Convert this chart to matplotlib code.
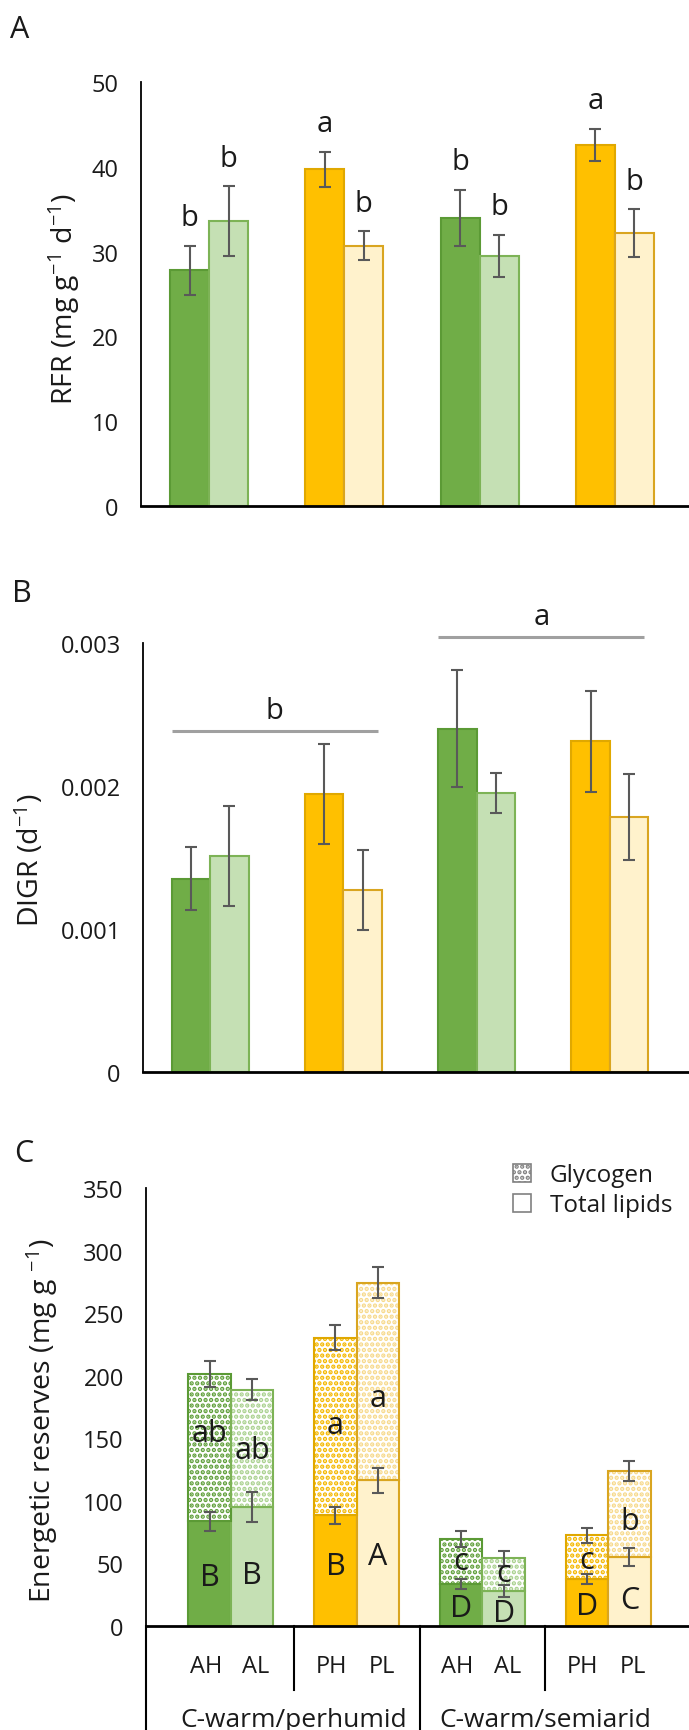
import matplotlib
matplotlib.use("Agg")
import matplotlib.pyplot as plt
import matplotlib.patches as mpatches
import matplotlib.transforms as mtransforms
import numpy as np

plt.rcParams['font.family'] = ['Open Sans', 'DejaVu Sans']
plt.rcParams['mathtext.fontset'] = 'custom'
plt.rcParams['mathtext.rm'] = 'Open Sans'
plt.rcParams['mathtext.it'] = 'Open Sans:italic'
plt.rcParams['hatch.linewidth'] = 2.2

# ---------------- data ----------------
sites = ["C-warm/perhumid", "C-warm/semiarid"]
bar_labels = ["AH", "AL", "PH", "PL", "AH", "AL", "PH", "PL"]

# Panel A: RFR (bars in order AH, AL, PH, PL, AH, AL, PH, PL)
rfr = [27.8, 33.6, 39.7, 30.7, 34.0, 29.5, 42.6, 32.2]
rfr_err = [2.9, 4.1, 2.1, 1.7, 3.3, 2.5, 1.9, 2.8]
rfr_letters = ["b", "b", "a", "b", "b", "b", "a", "b"]

# Panel B: DIGR
digr = [0.00135, 0.00151, 0.00194, 0.00127, 0.00240, 0.00195, 0.00231, 0.00178]
digr_err = [0.00022, 0.00035, 0.00035, 0.00028, 0.00041, 0.00014, 0.00035, 0.00030]
digr_group_letters = ["b", "a"]
digr_group_level = [0.00238, 0.00304]

# Panel C: energetic reserves
lipids = [83.6, 94.9, 88.5, 116.4, 33.8, 28.3, 37.6, 55.3]
lipids_err = [7.5, 12.0, 7.0, 10.0, 4.0, 4.8, 4.2, 7.4]
glycogen = [118.1, 94.2, 142.1, 158.0, 35.4, 25.7, 34.8, 68.5]
total_err = [10.6, 8.7, 10.0, 12.5, 6.4, 6.0, 6.0, 8.0]
glyc_letters = ["ab", "ab", "a", "a", "c", "c", "c", "b"]
lipid_letters = ["B", "B", "B", "A", "D", "D", "D", "C"]
glyc_letter_y = [154, 141, 161, 182, 52, 42, 53, 84]
lipid_letter_y = [39, 41, 48, 56, 14.5, 10, 16, 21]

# ---------------- styles ----------------
face = ["#70AD47", "#C5E0B4", "#FFC000", "#FFF2CC"] * 2
edge = ["#5B9A35", "#7DB356", "#E0A800", "#D9A520"] * 2
dots = ["#5E9E38", "#A9D18E", "#F5B800", "#F7D98A"] * 2
errc = "#595959"
TICK = 17
LAB = 20.5
LET = 21
TXT = "#1a1a1a"

W, H = 689, 1731
fig = plt.figure(figsize=(W / 100, H / 100), dpi=100)


def axes_px(left, top, right, bottom):
    return fig.add_axes([left / W, 1 - bottom / H, (right - left) / W, (bottom - top) / H])


def style(ax):
    for s in ["top", "right"]:
        ax.spines[s].set_visible(False)
    ax.spines["left"].set_linewidth(1.3)
    ax.spines["bottom"].set_linewidth(2.0)
    ax.tick_params(axis="y", length=0, pad=16, labelsize=TICK, labelcolor=TXT)
    ax.set_xticks([])


def positions(n_cat, width):
    xs = []
    for c in range(n_cat):
        xs += [c - width / 2, c + width / 2]
    return np.array(xs)


# ---------- Panel A ----------
axA = axes_px(141, 83, 689, 507)
wA = 0.288
xA = positions(4, wA)
axA.bar(xA, rfr, width=wA, color=face, edgecolor=edge, linewidth=1.5, zorder=2)
axA.errorbar(xA, rfr, yerr=rfr_err, fmt="none", ecolor=errc, elinewidth=1.5, capsize=4, capthick=1.5, zorder=3)
for x, v, e, l in zip(xA, rfr, rfr_err, rfr_letters):
    axA.text(x, v + e + 3.3, l, ha="center", va="center", fontsize=LET, color=TXT)
axA.set_ylim(0, 50)
axA.set_yticks(np.arange(0, 51, 10))
axA.set_xlim(-0.503, 3.548)
style(axA)
fig.text(64 / W, 1 - 299 / H, r"RFR (mg g$^{\mathrm{-1}}$ d$^{\mathrm{-1}}$)", rotation=90,
         ha="center", va="center", fontsize=LAB, color=TXT)
fig.text(20 / W, 1 - 30 / H, "A", ha="center", va="center", fontsize=22, color=TXT)

# ---------- Panel B ----------
axB = axes_px(143, 643.7, 689, 1073)
wB = 0.289
xB = positions(4, wB)
axB.bar(xB, digr, width=wB, color=face, edgecolor=edge, linewidth=1.5, zorder=2)
axB.errorbar(xB, digr, yerr=digr_err, fmt="none", ecolor=errc, elinewidth=1.5, capsize=4, capthick=1.5, zorder=3)
axB.set_ylim(0, 0.003)
axB.set_yticks([0, 0.001, 0.002, 0.003])
axB.set_yticklabels(["0", "0.001", "0.002", "0.003"])
axB.set_xlim(-0.503, 3.593)
style(axB)
for k, (lab, lev) in enumerate(zip(digr_group_letters, digr_group_level)):
    x0 = xB[4 * k] - wB / 2
    x1 = xB[4 * k + 3] + wB / 2 - 0.03
    axB.plot([x0, x1], [lev, lev], color="#A0A0A0", lw=2.2, clip_on=False, solid_capstyle="butt")
    axB.text((x0 + x1) / 2, lev + 0.000145, lab, ha="center", va="center", fontsize=LET, color=TXT)
fig.text(30 / W, 1 - 860 / H, r"DIGR (d$^{\mathrm{-1}}$)", rotation=90,
         ha="center", va="center", fontsize=LAB, color=TXT)
fig.text(22 / W, 1 - 594 / H, "B", ha="center", va="center", fontsize=22, color=TXT)

# ---------- Panel C ----------
axC = axes_px(146, 1189.3, 689, 1627)
wC = 0.338
xC = positions(4, wC)
axC.bar(xC, lipids, width=wC, color=face, edgecolor=edge, linewidth=1.5, zorder=2)
# glycogen: stippled
axC.bar(xC, glycogen, width=wC, bottom=lipids, color="white", edgecolor=dots, linewidth=0,
        hatch="...", zorder=2)
axC.bar(xC, glycogen, width=wC, bottom=lipids, fill=False, edgecolor=edge, linewidth=1.5, zorder=2.5)
totals = np.array(lipids) + np.array(glycogen)
axC.errorbar(xC, lipids, yerr=lipids_err, fmt="none", ecolor=errc, elinewidth=1.5, capsize=4, capthick=1.5, zorder=3)
axC.errorbar(xC, totals, yerr=total_err, fmt="none", ecolor=errc, elinewidth=1.5, capsize=4, capthick=1.5, zorder=3)
for x, l, y in zip(xC, glyc_letters, glyc_letter_y):
    axC.text(x, y, l, ha="center", va="center", fontsize=22, color=TXT, zorder=4)
for x, l, y in zip(xC, lipid_letters, lipid_letter_y):
    axC.text(x, y, l, ha="center", va="center", fontsize=22, color=TXT, zorder=4)
axC.set_ylim(0, 350)
axC.set_yticks(np.arange(0, 351, 50))
axC.set_xlim(-0.676, 3.644)
style(axC)

trans = mtransforms.blended_transform_factory(axC.transData, axC.transAxes)
# separators of the two-level category axis
for xs in [0.5, 2.5]:
    axC.plot([xs, xs], [0, -0.147], color="black", lw=1.5, transform=trans, clip_on=False)
for xs in [-0.676, 1.5]:
    axC.plot([xs, xs], [0, -0.30], color="black", lw=1.5, transform=trans, clip_on=False)
label_x = np.repeat(np.arange(4), 2) + np.tile([-0.2, 0.2], 4)
for x, lab in zip(label_x, bar_labels):
    axC.text(x, -0.0914, lab, transform=trans, ha="center", va="center", fontsize=17, color=TXT)
for k, s in enumerate(sites):
    axC.text(2 * k + 0.5, -0.2125, s, transform=trans, ha="center", va="center", fontsize=19, color=TXT)

h1 = mpatches.Patch(facecolor="white", edgecolor="#808080", hatch="...", linewidth=1.2)
h2 = mpatches.Patch(facecolor="white", edgecolor="#808080", linewidth=1.2)
fig.legend([h1, h2], ["Glycogen", "Total lipids"], loc="upper left",
           bbox_to_anchor=(501 / W, 1 - 1152 / H), frameon=False, fontsize=17.5,
           handlelength=0.75, handleheight=0.75, handletextpad=0.75, labelspacing=0.25, borderpad=0,
           labelcolor=TXT)

fig.text(42 / W, 1 - 1421 / H, r"Energetic reserves (mg g $^{\mathrm{-1}}$)", rotation=90,
         ha="center", va="center", fontsize=LAB, color=TXT)
fig.text(24 / W, 1 - 1154 / H, "C", ha="center", va="center", fontsize=22, color=TXT)

fig.savefig("out.png", dpi=100)
